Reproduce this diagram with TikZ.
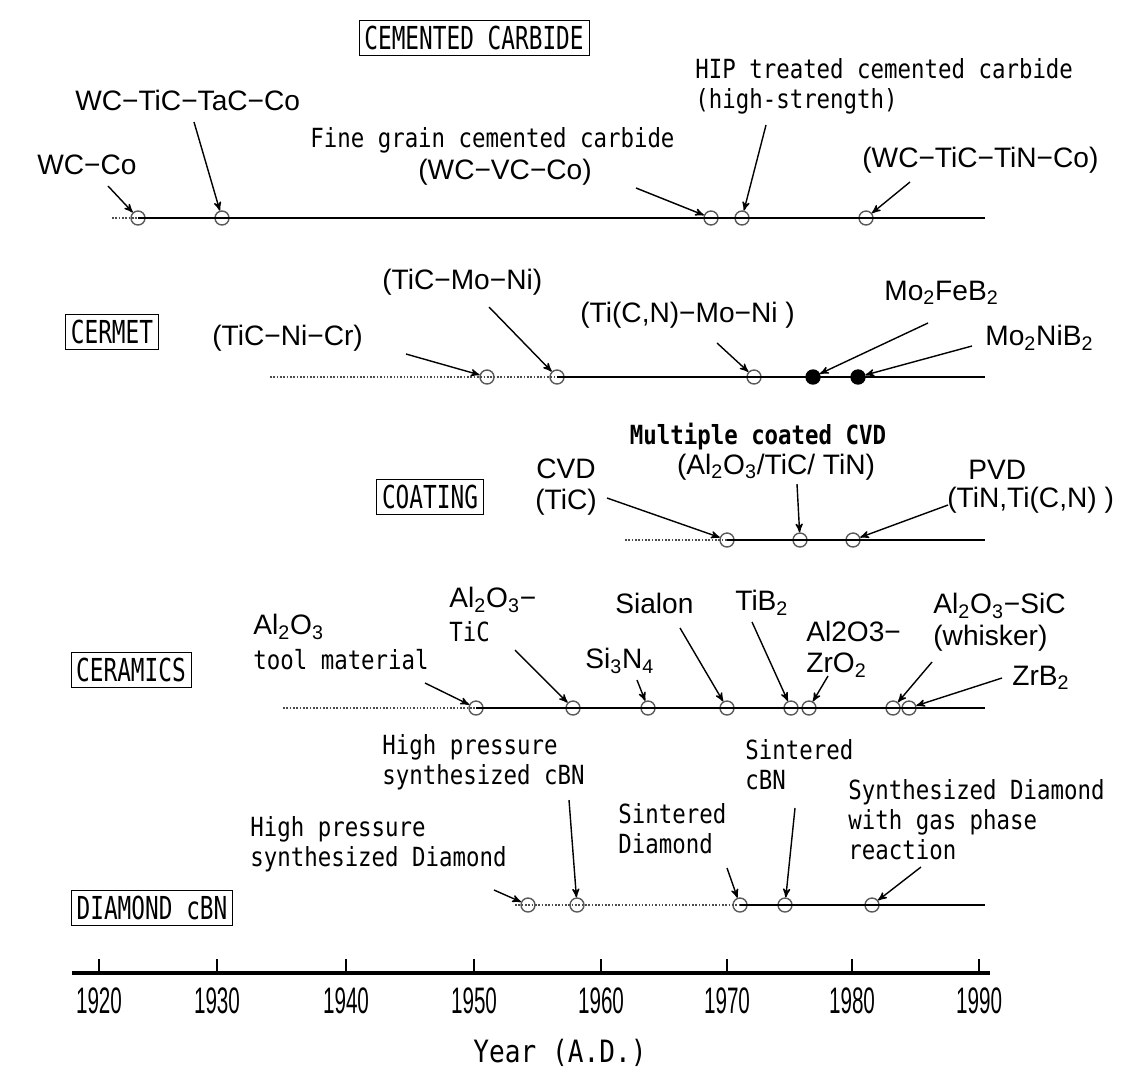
\documentclass[tikz,border=0pt]{standalone}
\usepackage{fontspec}
\setmainfont{Liberation Sans}
\newfontfamily\monofont[FakeStretch=0.85]{DejaVu Sans Mono}
\newfontfamily\boxfont[FakeStretch=0.72]{DejaVu Sans Mono}
\newfontfamily\yearfont[FakeStretch=0.56]{Liberation Sans}
\usepackage{tikz}
\usetikzlibrary{shapes,arrows}

\newcommand{\sub}[1]{\textsubscript{#1}}

\begin{document}
\begin{tikzpicture}[x=0.02cm,y=-0.02cm,
	lab/.style={inner sep=0pt,align=left,font=\fontsize{16}{18}\selectfont},
	mlab/.style={inner sep=0pt,align=left,font=\monofont\fontsize{15}{17}\selectfont},
	cat/.style={draw,thin,inner sep=3pt,font=\boxfont\fontsize{18}{20}\selectfont},
	mk/.style={circle,draw=black!65,thick,inner sep=0pt,minimum size=0.28cm},
	mkf/.style={mk,draw=black,fill=black},
	arr/.style={-stealth',thick},
	tl/.style={line width=0.9pt},
	dl/.style={densely dotted,line width=0.9pt,black!70}]

	\useasboundingbox (0,0) rectangle (1124,1069);

	%%% cemented carbide
	\node[cat] (cc) at (474,38) {CEMENTED CARBIDE};
	\foreach \n/\x in {a/138,b/222,c/711,d/742,e/866}
		\node[mk] (c1\n) at (\x,218) {};
	\coordinate (s1) at (112,218);
	\coordinate (e1) at (985,218);
	\draw[dl] (s1) -- (c1a.center);
	\draw[tl] (c1a.center) -- (e1);
	\node[lab,anchor=west] (wcco) at (37,165) {WC−Co};
	\node[lab,anchor=west] (wctic) at (75,100) {WC−TiC−TaC−Co};
	\node[mlab,anchor=west] (fg) at (310,140) {Fine grain cemented carbide};
	\node[lab,anchor=west] (fg2) at (418,172) {(WC−VC−Co)};
	\node[mlab,anchor=west] (hip) at (695,86) {HIP treated cemented carbide\\(high-strength)};
	\node[lab,anchor=west] (wctin) at (862,160) {(WC−TiC−TiN−Co)};
	\coordinate (t1a) at (108,186);
	\coordinate (t1b) at (194,122);
	\coordinate (t1c) at (636,188);
	\coordinate (t1d) at (766,125);
	\coordinate (t1e) at (910,182);
	\draw[arr] (t1a) -- (c1a);
	\draw[arr] (t1b) -- (c1b);
	\draw[arr] (t1c) -- (c1c);
	\draw[arr] (t1d) -- (c1d);
	\draw[arr] (t1e) -- (c1e);

	%%% cermet
	\node[cat] (cer) at (112,332) {CERMET};
	\foreach \n/\x in {a/487,b/557,c/754}
		\node[mk] (c2\n) at (\x,377) {};
	\node[mkf] (c2d) at (813,377) {};
	\node[mkf] (c2e) at (858,377) {};
	\coordinate (s2) at (270,377);
	\coordinate (e2) at (985,377);
	\draw[dl] (s2) -- (c2b.center);
	\draw[tl] (c2b.center) -- (e2);
	\node[lab,anchor=west] (ticni) at (212,338) {(TiC−Ni−Cr)};
	\node[lab,anchor=west] (ticmo) at (382,282) {(TiC−Mo−Ni)};
	\node[lab,anchor=west] (ticn) at (580,315) {(Ti(C,N)−Mo−Ni )};
	\node[lab,anchor=west] (mofe) at (884,293) {Mo\sub{2}FeB\sub{2}};
	\node[lab,anchor=west] (moni) at (985,338) {Mo\sub{2}NiB\sub{2}};
	\coordinate (t2a) at (406,354);
	\coordinate (t2b) at (489,307);
	\coordinate (t2c) at (717,343);
	\coordinate (t2d) at (928,323);
	\coordinate (t2e) at (972,346);
	\draw[arr] (t2a) -- (c2a);
	\draw[arr] (t2b) -- (c2b);
	\draw[arr] (t2c) -- (c2c);
	\draw[arr] (t2d) -- (c2d);
	\draw[arr] (t2e) -- (c2e);

	%%% coating
	\node[cat] (coat) at (430,497) {COATING};
	\foreach \n/\x in {a/727,b/800,c/853}
		\node[mk] (c3\n) at (\x,540) {};
	\coordinate (s3) at (625,540);
	\coordinate (e3) at (985,540);
	\draw[dl] (s3) -- (c3a.center);
	\draw[tl] (c3a.center) -- (e3);
	\node[lab,anchor=east,align=center] (cvd) at (597,487) {CVD\\(TiC)};
	\node[mlab,font=\monofont\bfseries\fontsize{15}{17}\selectfont] (mult) at (758,437) {Multiple coated CVD};
	\node[lab] (mult2) at (776,467) {(Al\sub{2}O\sub{3}/TiC/ TiN)};
	\node[lab,anchor=west] (pvd) at (968,470) {PVD};
	\node[lab,anchor=west] (pvd2) at (947,500) {(TiN,Ti(C,N) )};
	\coordinate (t3a) at (607,498);
	\coordinate (t3b) at (797,484);
	\coordinate (t3c) at (948,505);
	\draw[arr] (t3a) -- (c3a);
	\draw[arr] (t3b) -- (c3b);
	\draw[arr] (t3c) -- (c3c);

	%%% ceramics
	\node[cat] (cera) at (131,670) {CERAMICS};
	\foreach \n/\x in {a/476,b/573,c/648,d/727,e/791,f/809,g/893,h/909}
		\node[mk] (c4\n) at (\x,708) {};
	\coordinate (s4) at (283,708);
	\coordinate (e4) at (985,708);
	\draw[dl] (s4) -- (c4a.center);
	\draw[tl] (c4a.center) -- (e4);
	\node[lab,anchor=west] (alo) at (253,627) {Al\sub{2}O\sub{3}};
	\node[mlab,anchor=west] (alo2) at (253,660) {tool material};
	\node[lab,anchor=west] (altic) at (449,600) {Al\sub{2}O\sub{3}−};
	\node[mlab,anchor=west] (altic2) at (449,632) {TiC};
	\node[lab,anchor=west] (sin) at (585,661) {Si\sub{3}N\sub{4}};
	\node[lab,anchor=west] (sial) at (615,603) {Sialon};
	\node[lab,anchor=west] (tib) at (735,603) {TiB\sub{2}};
	\node[lab,anchor=west] (alzr) at (806,649) {Al2O3−\\ZrO\sub{2}};
	\node[lab,anchor=west] (alsic) at (933,622) {Al\sub{2}O\sub{3}−SiC\\(whisker)};
	\node[lab,anchor=west] (zrb) at (1012,678) {ZrB\sub{2}};
	\coordinate (t4a) at (425,683);
	\coordinate (t4b) at (515,650);
	\coordinate (t4c) at (637,680);
	\coordinate (t4d) at (680,628);
	\coordinate (t4e) at (752,622);
	\coordinate (t4f) at (828,676);
	\coordinate (t4g) at (932,662);
	\coordinate (t4h) at (1002,678);
	\draw[arr] (t4a) -- (c4a);
	\draw[arr] (t4b) -- (c4b);
	\draw[arr] (t4c) -- (c4c);
	\draw[arr] (t4d) -- (c4d);
	\draw[arr] (t4e) -- (c4e);
	\draw[arr] (t4f) -- (c4f);
	\draw[arr] (t4g) -- (c4g);
	\draw[arr] (t4h) -- (c4h);

	%%% diamond, cbn
	\node[cat] (dia) at (152,908) {DIAMOND cBN};
	\foreach \n/\x in {a/528,b/577,c/740,d/785,e/872}
		\node[mk] (c5\n) at (\x,905) {};
	\coordinate (s5) at (515,905);
	\coordinate (e5) at (985,905);
	\draw[dl] (s5) -- (c5c.center);
	\draw[tl] (c5c.center) -- (e5);
	\node[mlab,anchor=west] (hpd) at (250,844) {High pressure\\synthesized Diamond};
	\node[mlab,anchor=west] (hpc) at (382,762) {High pressure\\synthesized cBN};
	\node[mlab,anchor=west] (sd) at (618,829) {Sintered\\Diamond};
	\node[mlab,anchor=west] (sc) at (745,765) {Sintered\\cBN};
	\node[mlab,anchor=west] (gas) at (848,820) {Synthesized Diamond\\with gas phase\\reaction};
	\coordinate (t5a) at (494,890);
	\coordinate (t5b) at (569,800);
	\coordinate (t5c) at (727,868);
	\coordinate (t5d) at (795,808);
	\coordinate (t5e) at (921,867);
	\draw[arr] (t5a) -- (c5a);
	\draw[arr] (t5b) -- (c5b);
	\draw[arr] (t5c) -- (c5c);
	\draw[arr] (t5d) -- (c5d);
	\draw[arr] (t5e) -- (c5e);

	%%% year axis
	\coordinate (ax0) at (72,973);
	\coordinate (ax1) at (990,973);
	\draw[line width=1.8pt] (ax0) -- (ax1);
	\foreach \x/\yr in {99/1920,217/1930,346/1940,474/1950,601/1960,727/1970,852/1980,979/1990}{
		\draw[thick] (\x,973) -- (\x,959);
		\node[font=\yearfont\fontsize{21}{23}\selectfont] (y\yr) at (\x,1001) {\yr};
	}
	\node[font=\monofont\fontsize{17.5}{20}\selectfont] (yr) at (560,1053) {Year (A.D.)};
\end{tikzpicture}
\end{document}
